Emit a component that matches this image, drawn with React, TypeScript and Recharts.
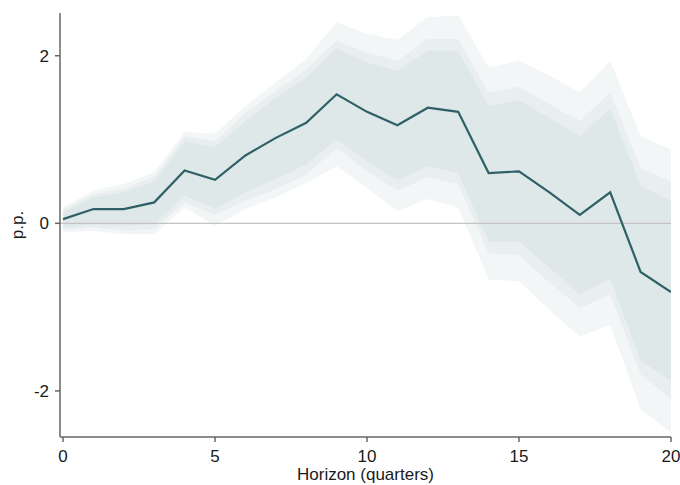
import {
  ComposedChart,
  Area,
  Line,
  XAxis,
  YAxis,
  ReferenceLine,
  Label,
} from 'recharts';

const horizon = [0, 1, 2, 3, 4, 5, 6, 7, 8, 9, 10, 11, 12, 13, 14, 15, 16, 17, 18, 19, 20];
const irf = [0.05, 0.17, 0.17, 0.25, 0.63, 0.52, 0.81, 1.02, 1.2, 1.54, 1.33, 1.17, 1.38, 1.33, 0.6, 0.62, 0.37, 0.1, 0.37, -0.58, -0.82];

// inner band
const hiInner = [0.13, 0.31, 0.37, 0.5, 0.98, 0.91, 1.22, 1.5, 1.74, 2.09, 1.92, 1.82, 2.06, 2.06, 1.4, 1.47, 1.26, 1.04, 1.37, 0.45, 0.27];
const loInner = [-0.05, -0.01, -0.03, -0.01, 0.33, 0.17, 0.37, 0.53, 0.7, 1.0, 0.74, 0.51, 0.68, 0.6, -0.22, -0.22, -0.53, -0.85, -0.66, -1.64, -1.88];
// middle band
const hiMid = [0.16, 0.35, 0.41, 0.56, 1.04, 0.98, 1.32, 1.58, 1.84, 2.18, 2.04, 1.94, 2.2, 2.2, 1.56, 1.63, 1.42, 1.22, 1.56, 0.66, 0.5];
const loMid = [-0.08, -0.05, -0.09, -0.07, 0.25, 0.1, 0.27, 0.41, 0.58, 0.9, 0.62, 0.39, 0.55, 0.47, -0.36, -0.38, -0.71, -1.01, -0.85, -1.8, -2.1];
// outer band
const hiOuter = [0.19, 0.39, 0.47, 0.61, 1.09, 1.07, 1.4, 1.68, 1.96, 2.4, 2.26, 2.19, 2.46, 2.48, 1.86, 1.94, 1.76, 1.56, 1.94, 1.04, 0.88];
const loOuter = [-0.11, -0.09, -0.13, -0.13, 0.19, -0.03, 0.17, 0.31, 0.48, 0.68, 0.42, 0.15, 0.29, 0.19, -0.67, -0.69, -1.03, -1.35, -1.21, -2.22, -2.5];

const xTicks = [0, 5, 10, 15, 20];
const yTicks = [-2, 0, 2];

const FONT = '"Liberation Sans", Arial, Helvetica, sans-serif';
const AXIS = '#666';
const TEXT = '#1a1a1a';

const data = horizon.map((h, i) => ({
  h,
  irf: irf[i],
  inner: [loInner[i], hiInner[i]],
  mid: [loMid[i], hiMid[i]],
  outer: [loOuter[i], hiOuter[i]],
}));

export default function App() {
  const tick = { fill: TEXT, fontSize: 17, fontFamily: FONT };
  return (
    <div style={{ position: 'absolute', left: 0, top: 0, background: '#fff' }}>
      <ComposedChart
        width={680}
        height={485}
        data={data}
        margin={{ top: 13, right: 9, bottom: 0, left: 0 }}
      >
        <XAxis
          dataKey="h"
          type="number"
          domain={[-0.1, 20]}
          ticks={xTicks}
          allowDataOverflow
          height={48}
          tickSize={5}
          tickMargin={8}
          stroke={AXIS}
          strokeWidth={1.5}
          tick={tick}
        >
          <Label
            value="Horizon (quarters)"
            position="insideBottom"
            offset={5}
            style={{ fill: TEXT, fontSize: 17, fontFamily: FONT }}
          />
        </XAxis>
        <YAxis
          type="number"
          domain={[-2.55, 2.51]}
          ticks={yTicks}
          allowDataOverflow
          width={60}
          tickSize={5}
          tickMargin={6}
          stroke={AXIS}
          strokeWidth={1.5}
          tick={tick}
        >
          <Label
            content={() => (
              <text
                x={23}
                y={225}
                transform="rotate(-90 23 225)"
                textAnchor="middle"
                fill={TEXT}
                fontSize={17}
                fontFamily={FONT}
              >
                p.p.
              </text>
            )}
          />
        </YAxis>
        <Area
          dataKey="outer"
          stroke="none"
          fill="#f3f6f6"
          fillOpacity={1}
          isAnimationActive={false}
        />
        <Area
          dataKey="mid"
          stroke="none"
          fill="#e9efef"
          fillOpacity={1}
          isAnimationActive={false}
        />
        <Area
          dataKey="inner"
          stroke="none"
          fill="#dfe8e8"
          fillOpacity={1}
          isAnimationActive={false}
        />
        <ReferenceLine y={0} stroke="#c4c4c4" strokeWidth={1.2} />
        <Line
          dataKey="irf"
          stroke="#2e6166"
          strokeWidth={2.2}
          dot={false}
          isAnimationActive={false}
        />
      </ComposedChart>
    </div>
  );
}
